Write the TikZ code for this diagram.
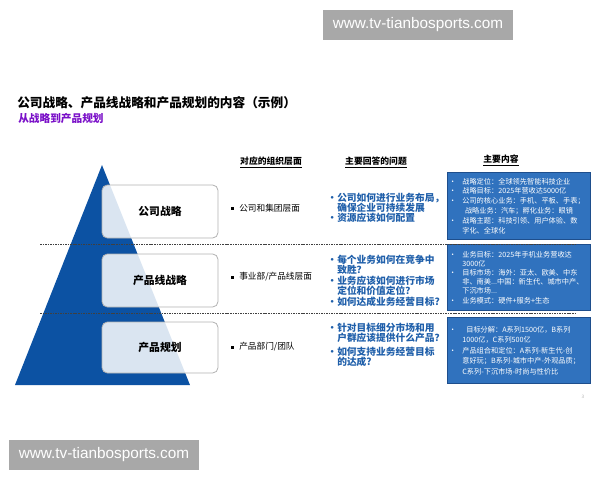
\documentclass[tikz,border=0pt]{standalone}
\usepackage{fontspec}
\setmainfont{Noto Sans CJK SC}
\newfontfamily\wmfont{Liberation Sans}
\definecolor{pyrblue}{RGB}{12,82,163}
\definecolor{boxblue}{RGB}{48,114,190}
\definecolor{boxedge}{RGB}{30,78,140}
\definecolor{qblue}{RGB}{31,95,170}
\definecolor{subpurple}{RGB}{122,16,200}
\definecolor{wmgray}{RGB}{168,168,168}
\newcommand{\cb}{\makebox[10pt][l]{•}}
\newcommand{\ci}{\hspace*{10pt}}
\newcommand{\qb}{\makebox[7.5pt][l]{•}}
\newcommand{\qi}{\hspace*{7.5pt}}
\newcommand{\sq}{\makebox[6pt][l]{\raisebox{1pt}{\rule{2.2pt}{2.2pt}}}}
\tikzset{
  wm/.style={fill=wmgray, text=white, font=\wmfont\fontsize{11.5}{13}\selectfont, minimum width=142.5pt, minimum height=22.5pt, inner sep=0pt},
  lvlbox/.style={draw=gray!60, line width=0.6pt, fill=white, fill opacity=0.85, text opacity=1, rounded corners=4pt, minimum width=87pt, font=\fontsize{8.1}{10}\selectfont\bfseries},
  dashline/.style={draw=black!75, line width=0.75pt, dash pattern=on 1.2pt off 0.7pt},
  hdr/.style={font=\fontsize{6.6}{8}\selectfont\bfseries, inner sep=0pt},
  orgtxt/.style={font=\fontsize{6.5}{8}\selectfont, anchor=west, inner sep=0pt},
  qtxt/.style={font=\fontsize{7.3}{7.6}\selectfont\bfseries, text=qblue, anchor=north west, inner sep=0pt, align=left},
  cbox/.style={fill=boxblue, draw=boxedge, line width=0.6pt, text=white, align=left, text width=105pt, inner xsep=1.2pt, inner ysep=0pt, minimum width=107.25pt, anchor=north west}
}
\begin{document}
\begin{tikzpicture}[x=0.75pt,y=-0.75pt]
\useasboundingbox (0,0) rectangle (600,480);
% watermarks
\node[wm] (wm1) at (418,25) {www.tv-tianbosports.com};
\node[wm] (wm2) at (104,455) {www.tv-tianbosports.com};
% title
\node[anchor=west, inner sep=0pt, font=\fontsize{9.5}{11}\selectfont\bfseries] (title) at (17,103) {公司战略、产品线战略和产品规划的内容（示例）};
\node[anchor=west, inner sep=0pt, font=\fontsize{8}{9}\selectfont\bfseries, text=subpurple] (sub) at (18,118) {从战略到产品规划};
% pyramid
\fill[pyrblue] (102,165) -- (190,385) -- (15,385) -- cycle;
% level boxes
\node[lvlbox, minimum height=39.75pt] (b1) at (160,211.5) {公司战略};
\node[lvlbox, minimum height=39.75pt] (b2) at (160,280.5) {产品线战略};
\node[lvlbox, minimum height=38.25pt] (b3) at (160,347.5) {产品规划};
% headers
\node[hdr] (h1) at (271,162) {\underline{对应的组织层面}};
\node[hdr] (h2) at (376,162) {\underline{主要回答的问题}};
\node[hdr] (h3) at (501,160) {\underline{主要内容}};
% blue content boxes
\node[cbox, minimum height=50.25pt, font=\fontsize{5.4}{7.1}\selectfont] (c1) at (447,172) {\cb 战略定位：全球领先智能科技企业\\
\cb 战略目标：2025年营收达5000亿\\
\cb 公司的核心业务：手机、平板、手表；\\[0.6pt]
\ci\hspace*{2pt}战略业务：汽车；孵化业务：眼镜\\[0.4pt]
\cb 战略主题：科技引领、用户体验、数\\
\ci 字化、全球化};
\node[cbox, minimum height=49.5pt, font=\fontsize{5.4}{6.9}\selectfont] (c2) at (447,244) {\cb 业务目标：2025年手机业务营收达\\
\ci 3000亿\\
\cb 目标市场：海外：亚太、欧美、中东\\
\ci 非、南美...中国：新生代、城市中产、\\
\ci 下沉市场...\\
\cb 业务模式：硬件+服务+生态};
\node[cbox, minimum height=49.5pt, font=\fontsize{5.4}{7.9}\selectfont] (c3) at (447,317) {\cb\hspace*{3pt}目标分解：A系列1500亿，B系列\\
\ci 1000亿，C系列500亿\\
\cb 产品组合和定位：A系列-新生代-创\\
\ci 意好玩；B系列-城市中产-外观品质；\\
\ci C系列-下沉市场-时尚与性价比};
% dashed separators
\coordinate (d1l) at (40,244);
\coordinate (d1r) at (577,244);
\coordinate (d2l) at (40,313);
\coordinate (d2r) at (577,313);
\draw[dashline] (d1l) -- (d1r);
\draw[dashline] (d2l) -- (d2r);
% organisation level
\node[orgtxt] (o1) at (231,208) {\sq 公司和集团层面};
\node[orgtxt] (o2) at (231,277) {\sq 事业部/产品线层面};
\node[orgtxt] (o3) at (231,347) {\sq 产品部门/团队};
% questions
\node[qtxt] (q1) at (327,192.5) {\qb 公司如何进行业务布局，\\
\qi 确保企业可持续发展\\
\qb 资源应该如何配置};
\node[qtxt] (q2) at (327,254.5) {\qb 每个业务如何在竞争中\\
\qi 致胜？\\[0.6pt]
\qb 业务应该如何进行市场\\
\qi 定位和价值定位？\\[0.4pt]
\qb 如何达成业务经营目标?};
\node[qtxt] (q3) at (327,322.5) {\qb 针对目标细分市场和用\\
\qi 户群应该提供什么产品？\\[3pt]
\qb 如何支持业务经营目标\\
\qi 的达成?};
% page number
\node[inner sep=0pt, font=\fontsize{3.5}{4}\selectfont, text=gray!60] (pg) at (583,397) {3};
\end{tikzpicture}
\end{document}
